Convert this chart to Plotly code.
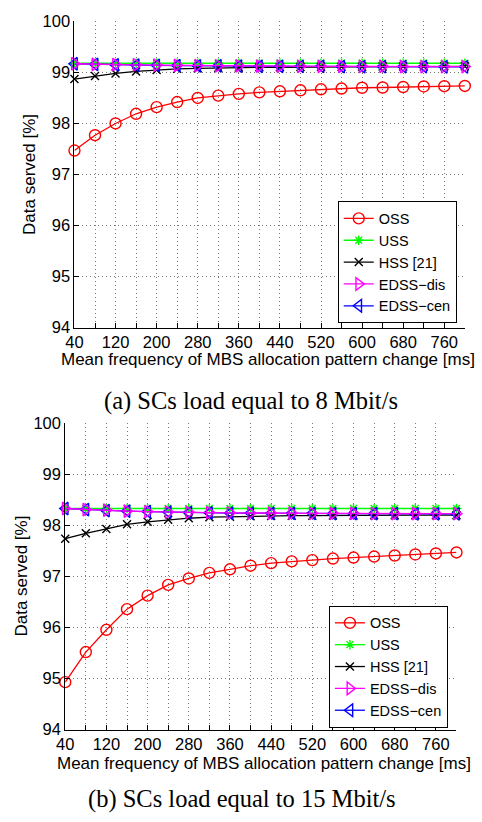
import plotly.graph_objects as go

W, H = 482, 822

X = [40, 80, 120, 160, 200, 240, 280, 320, 360, 400, 440, 480, 520, 560, 600, 640, 680, 720, 760, 800]
XTICK_LABELS = ["40", "", "120", "", "200", "", "280", "", "360", "", "440", "", "520", "", "600", "", "680", "", "760", ""]
YTICKS = [94, 95, 96, 97, 98, 99, 100]

# (a) SCs load 8 Mbit/s
OSS_a = [97.47, 97.77, 98.00, 98.19, 98.32, 98.42, 98.50, 98.545, 98.58, 98.61, 98.63, 98.65, 98.67, 98.685, 98.70, 98.705, 98.715, 98.725, 98.73, 98.735]
USS_a = [99.18, 99.18, 99.18, 99.18, 99.18, 99.18, 99.18, 99.18, 99.18, 99.18, 99.18, 99.18, 99.18, 99.18, 99.18, 99.18, 99.18, 99.18, 99.18, 99.18]
HSS_a = [98.87, 98.93, 98.98, 99.02, 99.05, 99.07, 99.08, 99.09, 99.095, 99.10, 99.10, 99.105, 99.11, 99.11, 99.11, 99.115, 99.115, 99.115, 99.12, 99.12]
EDSSdis_a = [99.17, 99.16, 99.155, 99.15, 99.145, 99.14, 99.135, 99.13, 99.13, 99.125, 99.125, 99.12, 99.12, 99.12, 99.12, 99.12, 99.115, 99.115, 99.115, 99.115]
EDSScen_a = [99.17, 99.16, 99.15, 99.145, 99.14, 99.135, 99.13, 99.13, 99.125, 99.12, 99.12, 99.12, 99.12, 99.115, 99.115, 99.115, 99.115, 99.115, 99.11, 99.11]

# (b) SCs load 15 Mbit/s
OSS_b = [94.93, 95.52, 95.955, 96.36, 96.625, 96.835, 96.96, 97.07, 97.14, 97.21, 97.26, 97.295, 97.32, 97.35, 97.37, 97.39, 97.41, 97.43, 97.45, 97.47]
USS_b = [98.33, 98.33, 98.33, 98.33, 98.33, 98.33, 98.33, 98.33, 98.33, 98.33, 98.33, 98.33, 98.33, 98.33, 98.33, 98.33, 98.33, 98.33, 98.33, 98.33]
HSS_b = [97.74, 97.845, 97.93, 98.02, 98.07, 98.11, 98.14, 98.16, 98.17, 98.18, 98.185, 98.19, 98.19, 98.195, 98.195, 98.20, 98.20, 98.20, 98.20, 98.20]
EDSSdis_b = [98.33, 98.31, 98.30, 98.28, 98.27, 98.26, 98.255, 98.25, 98.245, 98.24, 98.24, 98.24, 98.235, 98.235, 98.235, 98.23, 98.23, 98.23, 98.23, 98.23]
EDSScen_b = [98.33, 98.31, 98.29, 98.28, 98.27, 98.26, 98.25, 98.245, 98.24, 98.24, 98.235, 98.235, 98.235, 98.23, 98.23, 98.23, 98.23, 98.225, 98.225, 98.225]

NAMES = ["OSS", "USS", "HSS [21]", "EDSS\u2212dis", "EDSS\u2212cen"]
COLORS = ["#ff0000", "#00ff00", "#000000", "#ff00ff", "#0000ff"]
SYMBOLS = ["circle-open", "asterisk-open", "x-thin-open", "triangle-right-open", "triangle-left-open"]
MSIZES = [11, 8, 8, 11, 11]

FONT = "Liberation Sans, Arial, Helvetica, sans-serif"
SERIF = "Liberation Serif, Times New Roman, serif"

def px_x(p):
    return p / W

def px_y(p):
    return 1 - p / H

fig = go.Figure()

series_a = [OSS_a, USS_a, HSS_a, EDSSdis_a, EDSScen_a]
series_b = [OSS_b, USS_b, HSS_b, EDSSdis_b, EDSScen_b]
draw_order = [0, 1, 2, 4, 3]

for panel, (series, xa, ya, leg) in enumerate([(series_a, "x", "y", "legend"), (series_b, "x2", "y2", "legend2")]):
    for i in draw_order:
        fig.add_trace(go.Scatter(
            x=X, y=series[i], name=NAMES[i], mode="lines+markers",
            xaxis=xa, yaxis=ya, legend=leg, legendrank=i + 1,
            line=dict(color=COLORS[i], width=1.3),
            marker=dict(symbol=SYMBOLS[i], size=MSIZES[i], color=COLORS[i], line=dict(width=1.4, color=COLORS[i])),
            cliponaxis=False,
        ))

axis_common = dict(
    showline=True, linecolor="black", linewidth=1, mirror=False,
    ticks="inside", ticklen=5, tickcolor="black", tickwidth=1,
    showgrid=True, gridcolor="rgb(120,120,120)", griddash="1px,3px", gridwidth=1,
    zeroline=False, tickfont=dict(family=FONT, size=16.5, color="black"),
)
xcommon = dict(axis_common, range=[40, 800], tickmode="array", tickvals=X, ticktext=XTICK_LABELS)
ycommon = dict(axis_common, range=[94, 100], tickmode="array", tickvals=YTICKS, ticktext=[str(v) for v in YTICKS])

legend_common = dict(xanchor="left", yanchor="bottom", bgcolor="white", bordercolor="black", borderwidth=1,
                     font=dict(family=FONT, size=14.5, color="black"), itemwidth=30, tracegroupgap=0)

fig.update_layout(
    width=W, height=H, margin=dict(l=0, r=0, t=0, b=0),
    paper_bgcolor="white", plot_bgcolor="white",
    xaxis=dict(xcommon, domain=[px_x(66.7), px_x(464.5)], anchor="y"),
    yaxis=dict(ycommon, domain=[px_y(325.7), px_y(12.7)], anchor="x"),
    xaxis2=dict(xcommon, domain=[px_x(57.3), px_x(456.0)], anchor="y2"),
    yaxis2=dict(ycommon, domain=[px_y(736.8), px_y(423.5)], anchor="x2"),
    legend=dict(legend_common, x=px_x(335), y=px_y(321.5)),
    legend2=dict(legend_common, x=px_x(326), y=px_y(735)),
    showlegend=True,
)

annots = [
    dict(text="Mean frequency of MBS allocation pattern change [ms]", x=px_x(264), y=px_y(358), size=17, fam=FONT, angle=0),
    dict(text="Data served [%]", x=px_x(21), y=px_y(169), size=17, fam=FONT, angle=-90),
    dict(text="(a) SCs load equal to 8 Mbit/s", x=px_x(247), y=px_y(401), size=24.5, fam=SERIF, angle=0),
    dict(text="Mean frequency of MBS allocation pattern change [ms]", x=px_x(260), y=px_y(771), size=17, fam=FONT, angle=0),
    dict(text="Data served [%]", x=px_x(12.5), y=px_y(580), size=17, fam=FONT, angle=-90),
    dict(text="(b) SCs load equal to 15 Mbit/s", x=px_x(237.5), y=px_y(808), size=24.5, fam=SERIF, angle=0),
]
for a in annots:
    fig.add_annotation(text=a["text"], x=a["x"], y=a["y"], xref="paper", yref="paper",
                       xanchor="center", yanchor="middle", showarrow=False, textangle=a["angle"],
                       font=dict(family=a["fam"], size=a["size"], color="black"))

fig.write_html("out.html", config={"displayModeBar": False},
               post_script="document.body.style.margin='0';document.body.style.padding='0';document.body.style.overflow='hidden';")
